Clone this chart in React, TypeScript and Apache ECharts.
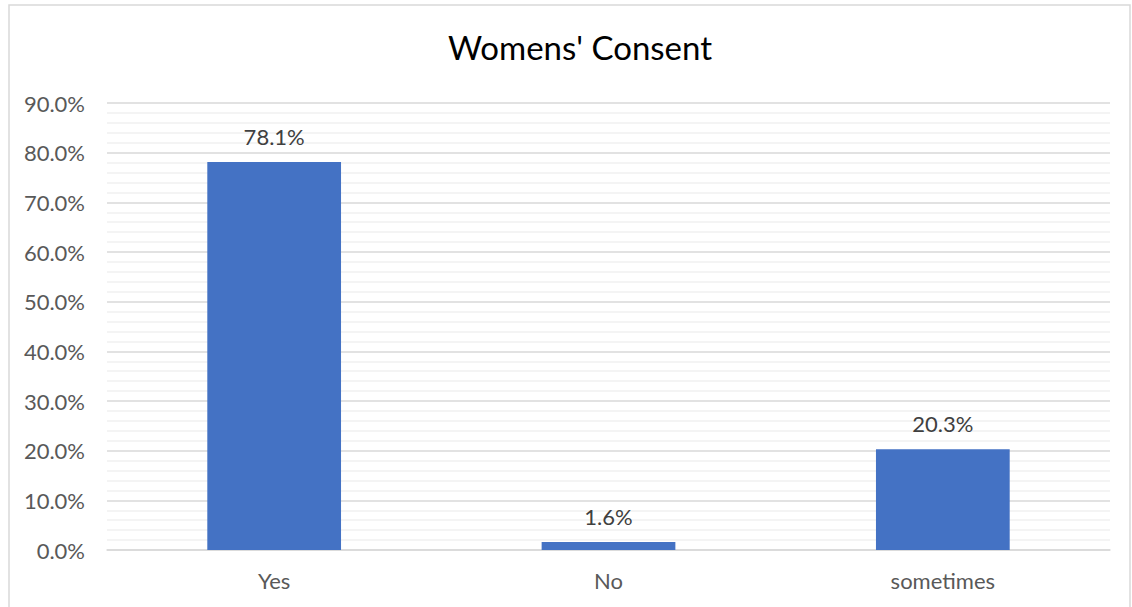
import React, { useEffect, useRef } from "react";
import * as echarts from "echarts";

const categories = ["Yes", "No", "sometimes"];
const values = [78.1, 1.6, 20.3];
const titleText = "Womens' Consent";

export default function App() {
  const ref = useRef<HTMLDivElement>(null);
  useEffect(() => {
    const chart = echarts.init(ref.current!, null, { renderer: "svg" });
    chart.setOption({
      animation: false,
      backgroundColor: "#ffffff",
      title: {
        text: titleText,
        left: 443,
        top: 25,
        textStyle: { fontFamily: "Lato", fontSize: 33, fontWeight: "normal", color: "#000000" },
      },
      graphic: [
        {
          type: "rect",
          shape: { x: 9, y: 5, width: 1121, height: 610 },
          style: { fill: "none", stroke: "#d9d9d9", lineWidth: 1.5 },
          silent: true,
        },
      ],
      grid: { left: 107, right: 22, top: 103, bottom: 57, containLabel: false },
      xAxis: {
        type: "category",
        data: categories,
        axisLine: { show: true, lineStyle: { color: "#d9d9d9", width: 1.5 } },
        axisTick: { show: false },
        axisLabel: { color: "#595959", fontFamily: "Lato", fontSize: 22, margin: 19 },
      },
      yAxis: {
        type: "value",
        min: 0,
        max: 90,
        interval: 10,
        axisLine: { show: false },
        axisTick: { show: false },
        axisLabel: {
          color: "#595959",
          fontFamily: "Lato",
          fontSize: 22,
          margin: 22,
          formatter: (v: number) => v.toFixed(1) + "%",
        },
        splitLine: { show: true, lineStyle: { color: "#d9d9d9", width: 1.5 } },
        minorTick: { show: false, splitNumber: 5 },
        minorSplitLine: { show: true, lineStyle: { color: "#f0f0f0", width: 1.5 } },
      },
      series: [
        {
          type: "bar",
          data: values,
          barWidth: "40%",
          itemStyle: { color: "#4472C4" },
          label: {
            show: true,
            position: "top",
            distance: 15,
            color: "#404040",
            fontFamily: "Lato",
            fontSize: 22,
            formatter: (p: any) => p.value.toFixed(1) + "%",
          },
        },
      ],
    });
    return () => chart.dispose();
  }, []);
  return (
    <div
      ref={ref}
      style={{ position: "fixed", left: 0, top: 0, width: 1132, height: 607 }}
    />
  );
}
